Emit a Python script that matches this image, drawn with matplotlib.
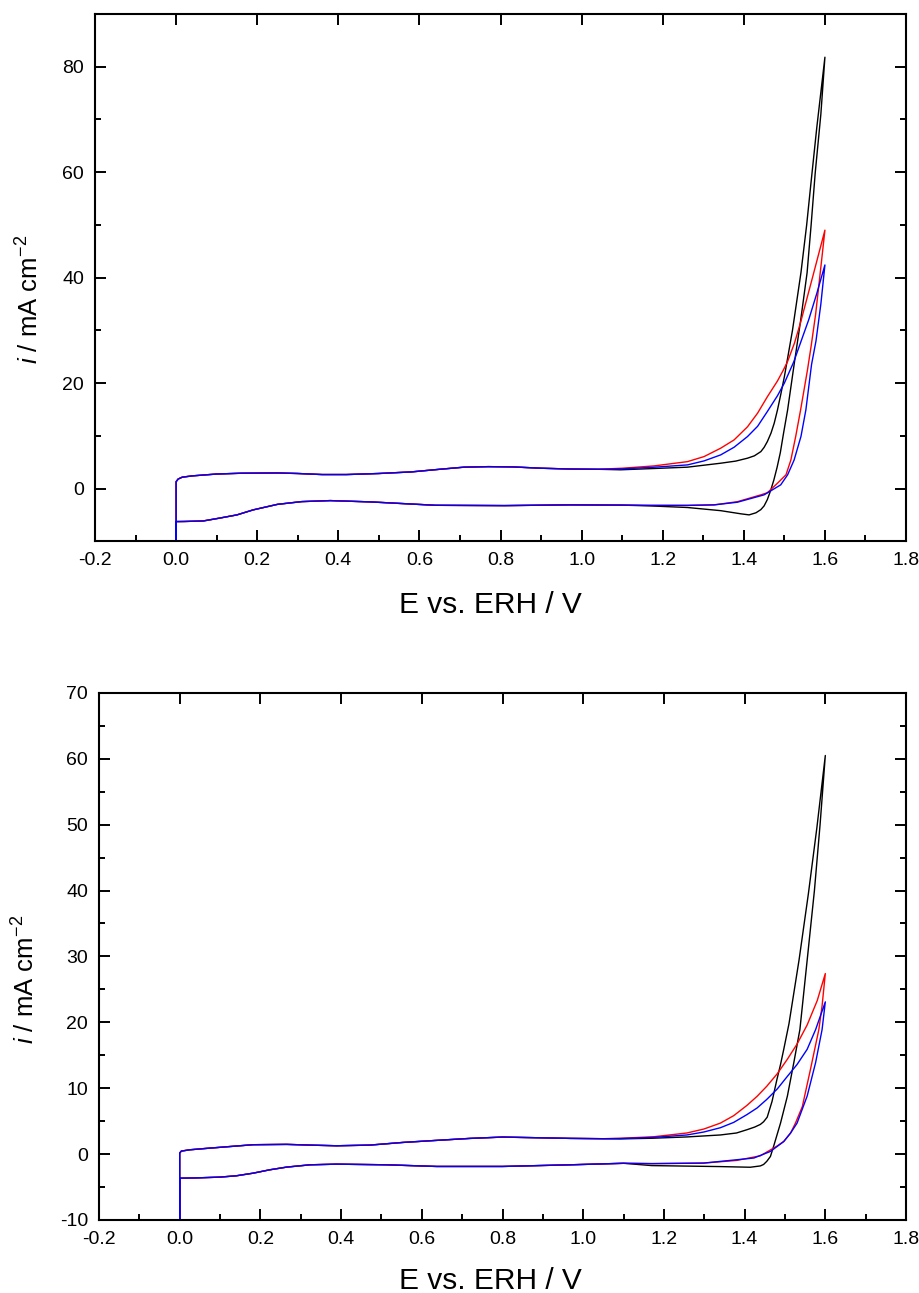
import matplotlib
matplotlib.use("Agg")
import matplotlib.pyplot as plt
from matplotlib.ticker import MultipleLocator

plt.rcParams["font.family"] = ["Liberation Sans", "DejaVu Sans"]
plt.rcParams["mathtext.fontset"] = "custom"
plt.rcParams["mathtext.rm"] = "Liberation Sans"
plt.rcParams["mathtext.it"] = "Liberation Sans:italic"

# ---------------- upper panel: cyclic voltammograms ----------------
# shared low-potential part of the anodic sweep (all three curves overlap)
top_fwd_E = [0.000, 0.000, 0.005, 0.015, 0.040, 0.100, 0.160, 0.250, 0.300, 0.360,
             0.420, 0.500, 0.580, 0.650, 0.710, 0.770, 0.830, 0.900, 0.970, 1.040]
top_fwd_i = [-30.0, 1.30, 1.80, 2.15, 2.40, 2.75, 2.90, 2.95, 2.85, 2.65,
             2.65, 2.85, 3.15, 3.65, 4.05, 4.15, 4.10, 3.85, 3.70, 3.65]
# shared low-potential part of the cathodic sweep
top_rev_E = [1.100, 0.970, 0.810, 0.640, 0.480, 0.380, 0.310, 0.250, 0.190, 0.150,
             0.108, 0.067, 0.020, 0.000, 0.000]
top_rev_i = [-3.15, -3.10, -3.24, -3.18, -2.54, -2.29, -2.48, -3.00, -4.05, -5.00,
             -5.60, -6.15, -6.25, -6.27, -30.0]

top_black_fwd_E = [1.096, 1.180, 1.261, 1.343, 1.380, 1.409, 1.426, 1.442, 1.450, 1.458,
                   1.467, 1.475, 1.483, 1.491, 1.500, 1.520, 1.541, 1.555, 1.565, 1.580, 1.600]
top_black_fwd_i = [3.55, 3.80, 4.05, 4.80, 5.20, 5.75, 6.20, 7.00, 7.80, 8.90,
                   10.5, 12.4, 14.9, 17.8, 21.2, 30.0, 41.0, 50.0, 57.5, 68.5, 81.8]
top_black_rev_E = [1.600, 1.590, 1.576, 1.566, 1.556, 1.540, 1.524, 1.508, 1.498, 1.490,
                   1.482, 1.474, 1.466, 1.458, 1.450, 1.442, 1.430, 1.413, 1.393, 1.343,
                   1.261, 1.170]
top_black_rev_i = [81.8, 71.0, 59.8, 50.0, 40.9, 31.8, 23.5, 14.9, 10.5, 6.8,
                   4.0, 1.6, -0.4, -2.1, -3.3, -4.0, -4.6, -5.0, -4.8, -4.2,
                   -3.6, -3.3]

top_red_fwd_E = [1.100, 1.179, 1.261, 1.302, 1.343, 1.376, 1.409, 1.434, 1.458, 1.483,
                 1.497, 1.508, 1.525, 1.540, 1.570, 1.600]
top_red_fwd_i = [3.85, 4.29, 5.10, 6.06, 7.65, 9.22, 11.7, 14.3, 17.4, 20.4,
                 22.4, 24.1, 27.6, 31.5, 40.2, 49.0]
top_red_rev_E = [1.600, 1.590, 1.577, 1.566, 1.557, 1.540, 1.528, 1.516, 1.504, 1.483,
                 1.458, 1.442, 1.384, 1.327, 1.261, 1.170]
top_red_rev_i = [49.0, 42.0, 33.0, 27.0, 22.5, 14.9, 9.9, 5.4, 2.6, 1.0,
                 -0.8, -1.2, -2.5, -3.1, -3.2, -3.2]

top_blue_fwd_E = [1.100, 1.179, 1.261, 1.302, 1.343, 1.376, 1.409, 1.434, 1.458, 1.483,
                  1.500, 1.523, 1.560, 1.580, 1.600]
top_blue_fwd_i = [3.72, 4.04, 4.48, 5.24, 6.38, 7.83, 9.85, 11.8, 14.6, 17.6,
                  20.0, 24.0, 32.0, 37.0, 42.4]
top_blue_rev_E = [1.600, 1.590, 1.578, 1.567, 1.553, 1.541, 1.524, 1.508, 1.491, 1.450,
                  1.384, 1.327, 1.261, 1.170]
top_blue_rev_i = [42.4, 35.0, 28.0, 23.5, 14.9, 9.9, 5.4, 2.6, 0.7, -1.2,
                  -2.6, -3.1, -3.2, -3.2]

# ---------------- lower panel ----------------
bot_fwd_E = [0.000, 0.000, 0.004, 0.025, 0.074, 0.182, 0.265, 0.330, 0.389, 0.471,
             0.554, 0.637, 0.720, 0.800, 0.885, 0.968, 1.050]
bot_fwd_i = [-30.0, 0.15, 0.45, 0.65, 0.90, 1.42, 1.47, 1.35, 1.26, 1.36,
             1.77, 2.08, 2.38, 2.58, 2.48, 2.38, 2.33]
bot_rev_E = [1.100, 0.968, 0.800, 0.637, 0.513, 0.389, 0.323, 0.265, 0.223, 0.182,
             0.140, 0.099, 0.040, 0.000, 0.000]
bot_rev_i = [-1.40, -1.63, -1.88, -1.88, -1.63, -1.53, -1.63, -1.98, -2.39, -2.90,
             -3.30, -3.50, -3.62, -3.66, -30.0]

bot_black_fwd_E = [1.092, 1.170, 1.257, 1.340, 1.380, 1.406, 1.425, 1.439, 1.447, 1.456,
                   1.468, 1.480, 1.489, 1.497, 1.510, 1.535, 1.558, 1.579, 1.600]
bot_black_fwd_i = [2.30, 2.40, 2.60, 2.90, 3.20, 3.70, 4.10, 4.50, 4.90, 5.60,
                   8.00, 11.3, 13.6, 15.9, 19.8, 29.5, 39.5, 49.5, 60.5]
bot_black_rev_E = [1.600, 1.587, 1.573, 1.556, 1.537, 1.522, 1.506, 1.489, 1.472, 1.464,
                   1.455, 1.447, 1.439, 1.414, 1.340, 1.170]
bot_black_rev_i = [60.5, 50.0, 40.0, 30.0, 18.9, 13.9, 8.8, 4.7, 1.2, -0.36,
                   -1.1, -1.58, -1.8, -2.0, -1.9, -1.75]

bot_red_fwd_E = [1.092, 1.175, 1.257, 1.299, 1.340, 1.373, 1.406, 1.431, 1.455, 1.481,
                 1.506, 1.530, 1.555, 1.580, 1.600]
bot_red_fwd_i = [2.40, 2.63, 3.20, 3.80, 4.70, 5.83, 7.40, 8.77, 10.3, 12.2,
                 14.4, 16.7, 19.6, 23.3, 27.4]
bot_red_rev_E = [1.600, 1.592, 1.584, 1.563, 1.543, 1.526, 1.514, 1.497, 1.480, 1.439,
                 1.380, 1.298, 1.170]
bot_red_rev_i = [27.4, 22.5, 18.9, 12.8, 7.2, 4.7, 3.2, 1.92, 1.2, -0.26,
                 -0.97, -1.37, -1.45]

bot_blue_fwd_E = [1.092, 1.175, 1.257, 1.299, 1.340, 1.373, 1.406, 1.431, 1.455, 1.481,
                  1.506, 1.530, 1.555, 1.576, 1.600]
bot_blue_fwd_i = [2.35, 2.53, 2.90, 3.35, 4.00, 4.81, 6.00, 7.00, 8.30, 9.89,
                  11.8, 13.6, 15.9, 18.9, 23.1]
bot_blue_rev_E = [1.600, 1.592, 1.576, 1.555, 1.530, 1.514, 1.497, 1.464, 1.423, 1.298,
                  1.170]
bot_blue_rev_i = [23.1, 18.9, 13.9, 8.8, 4.7, 3.2, 1.9, 0.4, -0.6, -1.37,
                  -1.45]

x_label = "E vs. ERH / V"
y_label = r"$\mathit{i}$ / mA cm$^{-2}$"


def loop(fwd_E, fwd_i, s_fwd_E, s_fwd_i, s_rev_E, s_rev_i, rev_E, rev_i):
    E = list(fwd_E) + list(s_fwd_E) + list(s_rev_E) + list(rev_E)
    i = list(fwd_i) + list(s_fwd_i) + list(s_rev_i) + list(rev_i)
    return E, i


def style_axes(ax, ylim, ymajor, yminor):
    ax.set_xlim(-0.2, 1.8)
    ax.set_ylim(*ylim)
    ax.xaxis.set_major_locator(MultipleLocator(0.2))
    ax.xaxis.set_minor_locator(MultipleLocator(0.1))
    ax.yaxis.set_major_locator(MultipleLocator(ymajor))
    ax.yaxis.set_minor_locator(MultipleLocator(yminor))
    ax.xaxis.set_major_formatter(plt.FuncFormatter(lambda v, p: f"{v:.1f}"))
    ax.yaxis.set_major_formatter(plt.FuncFormatter(lambda v, p: f"{v:.0f}"))
    for sp in ax.spines.values():
        sp.set_linewidth(1.5)
    ax.tick_params(which="both", direction="in", top=True, right=True,
                   width=1.4, labelsize=14, pad=8)
    ax.tick_params(which="major", length=8)
    ax.tick_params(which="minor", length=4, top=False)
    ax.set_xlabel(x_label, fontsize=21.5, va="center")
    ax.set_ylabel(y_label, fontsize=18.5)


fig = plt.figure(figsize=(9.2, 12.93), dpi=100)
ax1 = fig.add_axes([0.1033, 0.5814, 0.8815, 0.4078])
ax2 = fig.add_axes([0.1076, 0.0565, 0.8772, 0.4076])

panels = [
    (ax1, (top_fwd_E, top_fwd_i, top_rev_E, top_rev_i),
     [("black", top_black_fwd_E, top_black_fwd_i, top_black_rev_E, top_black_rev_i),
      ("red", top_red_fwd_E, top_red_fwd_i, top_red_rev_E, top_red_rev_i),
      ("blue", top_blue_fwd_E, top_blue_fwd_i, top_blue_rev_E, top_blue_rev_i)]),
    (ax2, (bot_fwd_E, bot_fwd_i, bot_rev_E, bot_rev_i),
     [("black", bot_black_fwd_E, bot_black_fwd_i, bot_black_rev_E, bot_black_rev_i),
      ("red", bot_red_fwd_E, bot_red_fwd_i, bot_red_rev_E, bot_red_rev_i),
      ("blue", bot_blue_fwd_E, bot_blue_fwd_i, bot_blue_rev_E, bot_blue_rev_i)]),
]

for ax, base, series in panels:
    fE, fi, rE, ri = base
    for color, sfE, sfi, srE, sri in series:
        E, i = loop(fE, fi, sfE, sfi, srE, sri, rE, ri)
        ax.plot(E, i, color=color, lw=1.0, solid_joinstyle="round")

style_axes(ax1, (-10, 90), 20, 10)
style_axes(ax2, (-10, 70), 10, 5)

ax1.xaxis.set_label_coords(0.487, -0.121)
ax2.xaxis.set_label_coords(0.4845, -0.116)
ax1.yaxis.set_label_coords(-0.064, 0.458)
ax2.yaxis.set_label_coords(-0.074, 0.457)

fig.savefig("out.png", dpi=100)
